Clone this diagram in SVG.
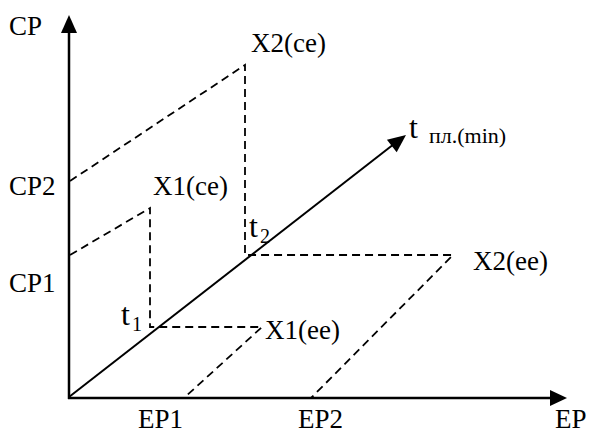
<svg xmlns="http://www.w3.org/2000/svg" width="590" height="433" viewBox="0 0 590 433">
<style>
.axis{stroke:#000;stroke-width:2.5;fill:none}
.diag{stroke:#000;stroke-width:2;fill:none}
.dash{stroke:#000;stroke-width:1.8;fill:none;stroke-dasharray:8 5}
.head{fill:#000;stroke:none}
text{font-family:'Liberation Serif','Times New Roman',serif;fill:#000}
.lbl{font-size:27px}
.big{font-size:32px}
.sub{font-size:20px}
.sub2{font-size:22px}
</style>
<rect width="590" height="433" fill="#fff"/>
<g id="connectors">
<line class="axis" x1="69" y1="399" x2="69" y2="30"/>
<polygon class="head" points="69,15 61,33 77,33"/>
<line class="axis" x1="68" y1="398" x2="552" y2="398"/>
<polygon class="head" points="567,398 550,390 550,406"/>
<line class="diag" x1="69" y1="397" x2="394" y2="144"/>
<polygon class="head" points="406,135 396.7,152.3 386.9,139.7"/>
<polyline class="dash" points="70,181 245,65 245,255 453,255 311,398"/>
<polyline class="dash" points="70,255 150,208 150,327 262,327 184,398"/>
</g>
<g id="cp-axis"><text class="lbl" x="9" y="35">CP</text></g>
<g id="cp2"><text class="lbl" x="9" y="195">CP2</text></g>
<g id="cp1"><text class="lbl" x="9" y="292">CP1</text></g>
<g id="x2ce"><text class="lbl" x="251" y="52">X2(ce)</text></g>
<g id="x1ce"><text class="lbl" x="153" y="195">X1(ce)</text></g>
<g id="t-axis"><text class="big" x="409" y="138">t</text><text class="sub2" x="429" y="143">пл.(min)</text></g>
<g id="t2"><text class="big" x="249" y="237">t</text><text class="sub" x="260" y="243">2</text></g>
<g id="t1"><text class="big" x="121" y="325">t</text><text class="sub" x="132" y="331">1</text></g>
<g id="x2ee"><text class="lbl" x="473" y="270">X2(ee)</text></g>
<g id="x1ee"><text class="lbl" x="265" y="339">X1(ee)</text></g>
<g id="ep1"><text class="lbl" x="138" y="428">EP1</text></g>
<g id="ep2"><text class="lbl" x="298" y="428">EP2</text></g>
<g id="ep-axis"><text class="lbl" x="555" y="428">EP</text></g>
</svg>
